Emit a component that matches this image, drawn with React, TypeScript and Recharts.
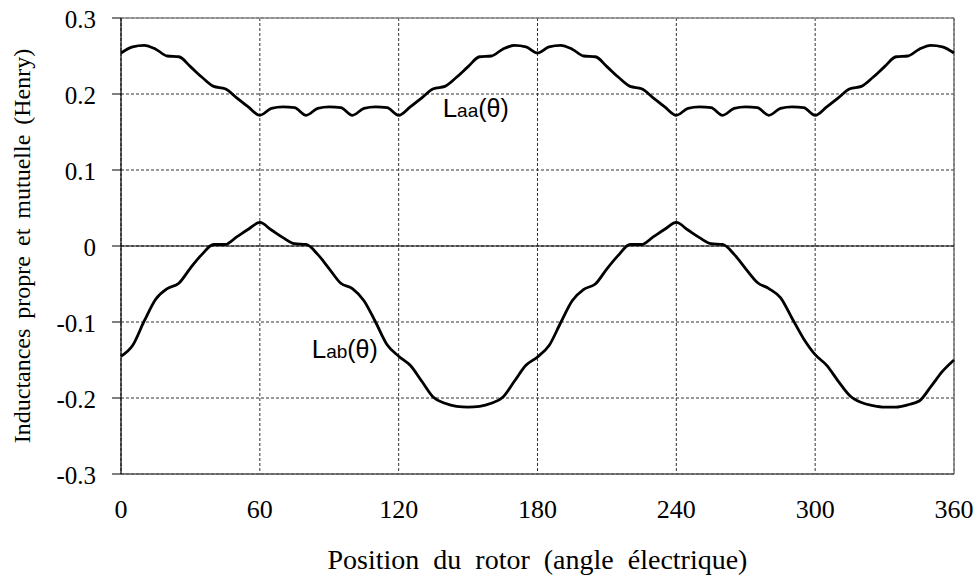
import React from "react";
import {
     LineChart,
     Line,
     XAxis,
     YAxis,
     CartesianGrid,
     ReferenceLine,
     ReferenceDot,
} from "recharts";

// rotor angle (electrical degrees)
const angles = [
     0, 5, 10, 15, 20, 25, 30, 35, 40, 45, 50, 55, 60, 65, 70, 75, 80, 85, 90, 95, 100, 105, 110, 115, 120,
     125, 130, 135, 140, 145, 150, 155, 160, 165, 170, 175, 180, 185, 190, 195, 200, 205, 210, 215, 220,
     225, 230, 235, 240, 245, 250, 255, 260, 265, 270, 275, 280, 285, 290, 295, 300, 305, 310, 315, 320,
     325, 330, 335, 340, 345, 350, 355, 360,
];

// self inductance Laa (H)
const laa = [
     0.254, 0.262, 0.264, 0.259, 0.25, 0.249, 0.236, 0.222, 0.21, 0.207, 0.195, 0.183, 0.172, 0.181, 0.183,
     0.182, 0.172, 0.181, 0.183, 0.182, 0.172, 0.181, 0.183, 0.182, 0.172, 0.183, 0.195, 0.207, 0.21, 0.222,
     0.236, 0.249, 0.25, 0.259, 0.264, 0.262, 0.254, 0.262, 0.264, 0.259, 0.25, 0.249, 0.236, 0.222, 0.21,
     0.207, 0.195, 0.183, 0.172, 0.181, 0.183, 0.182, 0.172, 0.181, 0.183, 0.182, 0.172, 0.181, 0.183, 0.182,
     0.172, 0.183, 0.195, 0.207, 0.21, 0.222, 0.236, 0.249, 0.25, 0.259, 0.264, 0.262, 0.254,
];

// mutual inductance Lab (H)
const lab = [
     -0.145, -0.131, -0.099, -0.07, -0.056, -0.049, -0.029, -0.011, 0.002, 0.002, 0.012, 0.022, 0.031, 0.021,
     0.011, 0.003, 0.002, -0.011, -0.03, -0.049, -0.056, -0.072, -0.1, -0.13, -0.145, -0.157, -0.178, -0.199,
     -0.207, -0.211, -0.212, -0.211, -0.207, -0.199, -0.178, -0.157, -0.146, -0.131, -0.101, -0.072, -0.057,
     -0.05, -0.03, -0.012, 0.002, 0.002, 0.012, 0.022, 0.031, 0.021, 0.011, 0.003, 0.002, -0.011, -0.03,
     -0.048, -0.056, -0.068, -0.095, -0.122, -0.143, -0.157, -0.178, -0.197, -0.206, -0.21, -0.212, -0.212,
     -0.209, -0.204, -0.185, -0.165, -0.15,
];

const xTicks = [0, 60, 120, 180, 240, 300, 360];
const yTicks = [-0.3, -0.2, -0.1, 0, 0.1, 0.2, 0.3];

const data = angles.map((a, i) => ({ angle: a, laa: laa[i], lab: lab[i] }));

const serif = "'Liberation Serif', 'Times New Roman', serif";
const sans = "'Liberation Sans', Arial, sans-serif";

// curve name drawn at a data point (left edge, baseline)
const CurveLabel = ({ cx, cy, sub }: any) => (
     <text x={cx} y={cy} fontFamily={sans} fill="#000">
          <tspan fontSize={26}>L</tspan>
          <tspan fontSize={19}>{sub}</tspan>
          <tspan fontSize={25}>(θ)</tspan>
     </text>
);

const XTick = ({ x, y, payload }: any) => (
     <text x={x} y={y} dy={9} textAnchor="middle" dominantBaseline="central" fontFamily={serif} fontSize={26} fill="#000">
          {payload.value}
     </text>
);

const YTick = ({ x, y, payload }: any) => (
     <text x={x} y={y} dy={1} textAnchor="end" dominantBaseline="central" fontFamily={serif} fontSize={25} fill="#000">
          {payload.value === 0 ? "0" : payload.value.toFixed(1)}
     </text>
);

const YTitle = ({ viewBox }: any) => {
     const x = viewBox.x + 22;
     const y = viewBox.y + viewBox.height / 2;
     return (
          <text
               x={x}
               y={y}
               transform={`rotate(-90, ${x}, ${y})`}
               textAnchor="middle"
               dominantBaseline="central"
               fontFamily={serif}
               fontSize={24}
               fill="#000"
               style={{ wordSpacing: 4 }}
          >
               Inductances propre et mutuelle (Henry)
          </text>
     );
};

export default function App() {
     return (
          <div style={{ position: "absolute", left: 0, top: 0, width: 979, height: 579, background: "#fff" }}>
               <LineChart
                    width={979}
                    height={579}
                    data={data}
                    margin={{ top: 18, right: 25, left: 0, bottom: 0 }}
               >
                    <CartesianGrid strokeDasharray="3 2" stroke="#333" strokeWidth={1} />
                    <XAxis
                         dataKey="angle"
                         type="number"
                         domain={[0, 360]}
                         ticks={xTicks}
                         height={105}
                         tickLine={false}
                         tickSize={6}
                         tickMargin={20}
                         axisLine={{ stroke: "#555", strokeWidth: 1.5 }}
                         tick={<XTick />}
                         label={{
                              value: "Position du rotor (angle électrique)",
                              position: "insideBottom",
                              offset: 10,
                              fill: "#000",
                              fontSize: 28,
                              fontFamily: serif,
                              style: { wordSpacing: 7 },
                         }}
                    />
                    <YAxis
                         type="number"
                         domain={[-0.3, 0.3]}
                         ticks={yTicks}
                         width={121}
                         tickSize={9}
                         tickMargin={16}
                         tickLine={{ stroke: "#000" }}
                         axisLine={{ stroke: "#000", strokeWidth: 1.2 }}
                         tick={<YTick />}
                         label={<YTitle />}
                    />
                    <ReferenceLine y={0.3} stroke="#888" strokeWidth={1.5} />
                    <ReferenceLine x={360} stroke="#777" strokeWidth={1.5} />
                    <ReferenceLine y={0} stroke="#000" strokeWidth={1.2} />
                    <Line
                         type="monotone"
                         dataKey="laa"
                         stroke="#000"
                         strokeWidth={2.8}
                         dot={false}
                         isAnimationActive={false}
                    />
                    <Line
                         type="monotone"
                         dataKey="lab"
                         stroke="#000"
                         strokeWidth={2.8}
                         dot={false}
                         isAnimationActive={false}
                    />
                    <ReferenceDot x={139} y={0.17} r={0} shape={(p: any) => <CurveLabel cx={p.cx} cy={p.cy} sub="aa" />} />
                    <ReferenceDot x={82.4} y={-0.147} r={0} shape={(p: any) => <CurveLabel cx={p.cx} cy={p.cy} sub="ab" />} />
               </LineChart>
          </div>
     );
}
